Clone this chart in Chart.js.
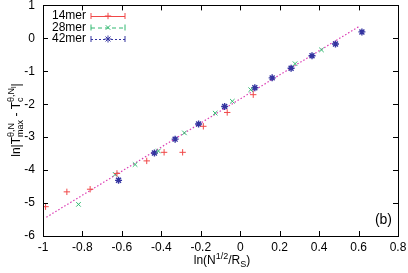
<!DOCTYPE html>
<html>
<head>
<meta charset="utf-8">
<script src="https://cdn.jsdelivr.net/npm/chart.js@4/dist/chart.umd.min.js"></script>
<style>
  html, body { margin: 0; padding: 0; background: #fff; }
  #wrap { width: 408px; height: 273px; }
</style>
</head>
<body>
<div id="wrap"><canvas id="myChart" width="408" height="273"></canvas></div>
<script>
// 14mer
const x14 = [-0.987, -0.879, -0.761, -0.625, -0.474, -0.386, -0.292, -0.187, -0.066, 0.066];
const y14 = [-5.11, -4.66, -4.58, -4.10, -3.72, -3.46, -3.46, -2.67, -2.25, -1.71];
// 28mer
const x28 = [-0.820, -0.634, -0.533, -0.415, -0.283, -0.127, -0.040, 0.053, 0.278, 0.412];
const y28 = [-5.04, -4.13, -3.83, -3.42, -2.87, -2.27, -1.91, -1.56, -0.77, -0.35];
// 42mer
const x42 = [-0.617, -0.435, -0.330, -0.211, -0.079, 0.074, 0.162, 0.258, 0.364, 0.483, 0.617];
const y42 = [-4.31, -3.48, -3.06, -2.60, -2.07, -1.50, -1.20, -0.91, -0.53, -0.17, 0.195];
// fitted line end points
const fitX = [-0.983, 0.607];
const fitY = [-5.43, 0.377];

const xTicks = [-1, -0.8, -0.6, -0.4, -0.2, 0, 0.2, 0.4, 0.6, 0.8];
const yTicks = [-6, -5, -4, -3, -2, -1, 0, 1];

const series = [
  { label: '14mer', xs: x14, ys: y14, color: '#f04848', style: 'cross', dash: [] },
  { label: '28mer', xs: x28, ys: y28, color: '#30b870', style: 'crossRot', dash: [4, 3] },
  { label: '42mer', xs: x42, ys: y42, color: '#3434a0', style: 'star', dash: [2, 2] }
];

const pairs = (xs, ys) => xs.map((v, i) => ({ x: v, y: ys[i] }));
const FONT = '"Liberation Sans", Arial, Helvetica, sans-serif';

const datasets = series.map(s => ({
  type: 'scatter',
  label: s.label,
  data: pairs(s.xs, s.ys),
  pointStyle: s.style,
  pointRadius: s.style === 'star' ? 3.5 : 3.2,
  borderColor: s.color,
  backgroundColor: s.color,
  pointBorderWidth: s.style === 'star' ? 1.4 : 1,
  showLine: false
}));
datasets.push({
  type: 'line',
  label: 'fit',
  data: pairs(fitX, fitY),
  borderColor: '#dc3cb4',
  borderWidth: 1.2,
  borderDash: [1.5, 2],
  pointRadius: 0,
  fill: false
});

const frame = {
  id: 'frame',
  afterDraw(chart) {
    const { ctx, chartArea: a, scales } = chart;
    const xs = scales.x, ys = scales.y;
    ctx.save();
    ctx.strokeStyle = '#000';
    ctx.lineWidth = 1;
    ctx.strokeRect(Math.round(a.left) + 0.5, Math.round(a.top) + 0.5,
      Math.round(a.right - a.left), Math.round(a.bottom - a.top));
    const t = 5;
    ctx.beginPath();
    xTicks.forEach(v => {
      const p = Math.round(xs.getPixelForValue(v)) + 0.5;
      ctx.moveTo(p, a.bottom); ctx.lineTo(p, a.bottom - t);
      ctx.moveTo(p, a.top); ctx.lineTo(p, a.top + t);
    });
    yTicks.forEach(v => {
      const p = Math.round(ys.getPixelForValue(v)) + 0.5;
      ctx.moveTo(a.left, p); ctx.lineTo(a.left + t, p);
      ctx.moveTo(a.right, p); ctx.lineTo(a.right - t, p);
    });
    ctx.stroke();

    // tick labels
    ctx.fillStyle = '#000';
    ctx.font = '12px ' + FONT;
    ctx.textAlign = 'center';
    ctx.textBaseline = 'middle';
    xTicks.forEach(v => {
      ctx.fillText(String(v), xs.getPixelForValue(v), a.bottom + 12);
    });
    ctx.textAlign = 'right';
    yTicks.forEach(v => {
      ctx.fillText(String(v), a.left - 8, ys.getPixelForValue(v));
    });

    // legend
    ctx.textAlign = 'left';
    series.forEach((s, i) => {
      const y = 16 + i * 11.5;
      ctx.fillStyle = '#000';
      ctx.fillText(s.label, 52, y);
      ctx.strokeStyle = s.color;
      ctx.lineWidth = 1;
      ctx.setLineDash(s.dash);
      ctx.beginPath();
      ctx.moveTo(91, y + 0.5); ctx.lineTo(125, y + 0.5);
      ctx.stroke();
      ctx.setLineDash([]);
      ctx.beginPath();
      ctx.moveTo(91, y - 3); ctx.lineTo(91, y + 3);
      ctx.moveTo(125, y - 3); ctx.lineTo(125, y + 3);
      ctx.stroke();
      ctx.fillStyle = s.color;
      Chart.helpers.drawPoint(ctx, {
        pointStyle: s.style, radius: s.style === 'star' ? 3.5 : 3.2,
        borderWidth: s.style === 'star' ? 1.4 : 1, rotation: 0
      }, 108, y);
    });

    // panel tag
    ctx.fillStyle = '#000';
    ctx.font = '14px ' + FONT;
    ctx.textAlign = 'right';
    ctx.textBaseline = 'alphabetic';
    ctx.fillText('(b)', 392, 224);

    // x axis title: ln(N^{1/2}/R_S)
    const big = '12px ' + FONT, small = '9px ' + FONT;
    const xparts = [
      ['ln(N', big, 0], ['1/2', small, -5], ['/R', big, 0], ['S', small, 3], [')', big, 0]
    ];
    let w = 0;
    xparts.forEach(p => { ctx.font = p[1]; w += ctx.measureText(p[0]).width; });
    let cx = 222 - w / 2;
    ctx.textAlign = 'left';
    xparts.forEach(p => {
      ctx.font = p[1];
      ctx.fillText(p[0], cx, 264 + p[2]);
      cx += ctx.measureText(p[0]).width;
    });

    // y axis title: ln|T^{θ,N}_{max} - T^{θ,N_l}_c|
    ctx.translate(20, 120);
    ctx.rotate(-Math.PI / 2);
    const tiny = '7px ' + FONT;
    const groups = [
      [['ln|T', big, 0]],
      [['θ,N', small, -6], ['max', small, 3]],
      [[' - T', big, 0]],
      [['θ,N', small, -6], ['c', small, 3]],
      [['l', tiny, -4]],
      [['|', big, 0]]
    ];
    const gw = g => Math.max(...g.map(p => { ctx.font = p[1]; return ctx.measureText(p[0]).width; }));
    let tw = 0;
    groups.forEach(g => { tw += gw(g); });
    let gx = -tw / 2;
    groups.forEach(g => {
      const wd = gw(g);
      g.forEach(p => { ctx.font = p[1]; ctx.fillText(p[0], gx, p[2]); });
      gx += wd;
    });
    ctx.restore();
  }
};

new Chart(document.getElementById('myChart').getContext('2d'), {
  data: { datasets },
  options: {
    responsive: false,
    animation: false,
    layout: { padding: { top: 5, right: 10, left: 0, bottom: 0 } },
    plugins: { legend: { display: false }, tooltip: { enabled: false } },
    scales: {
      x: {
        type: 'linear', min: -1, max: 0.8,
        afterFit: s => { s.height = 37; },
        grid: { display: false },
        border: { display: false },
        ticks: { display: false }
      },
      y: {
        type: 'linear', min: -6, max: 1,
        afterFit: s => { s.width = 43; },
        grid: { display: false },
        border: { display: false },
        ticks: { display: false }
      }
    }
  },
  plugins: [frame]
});
</script>
</body>
</html>
